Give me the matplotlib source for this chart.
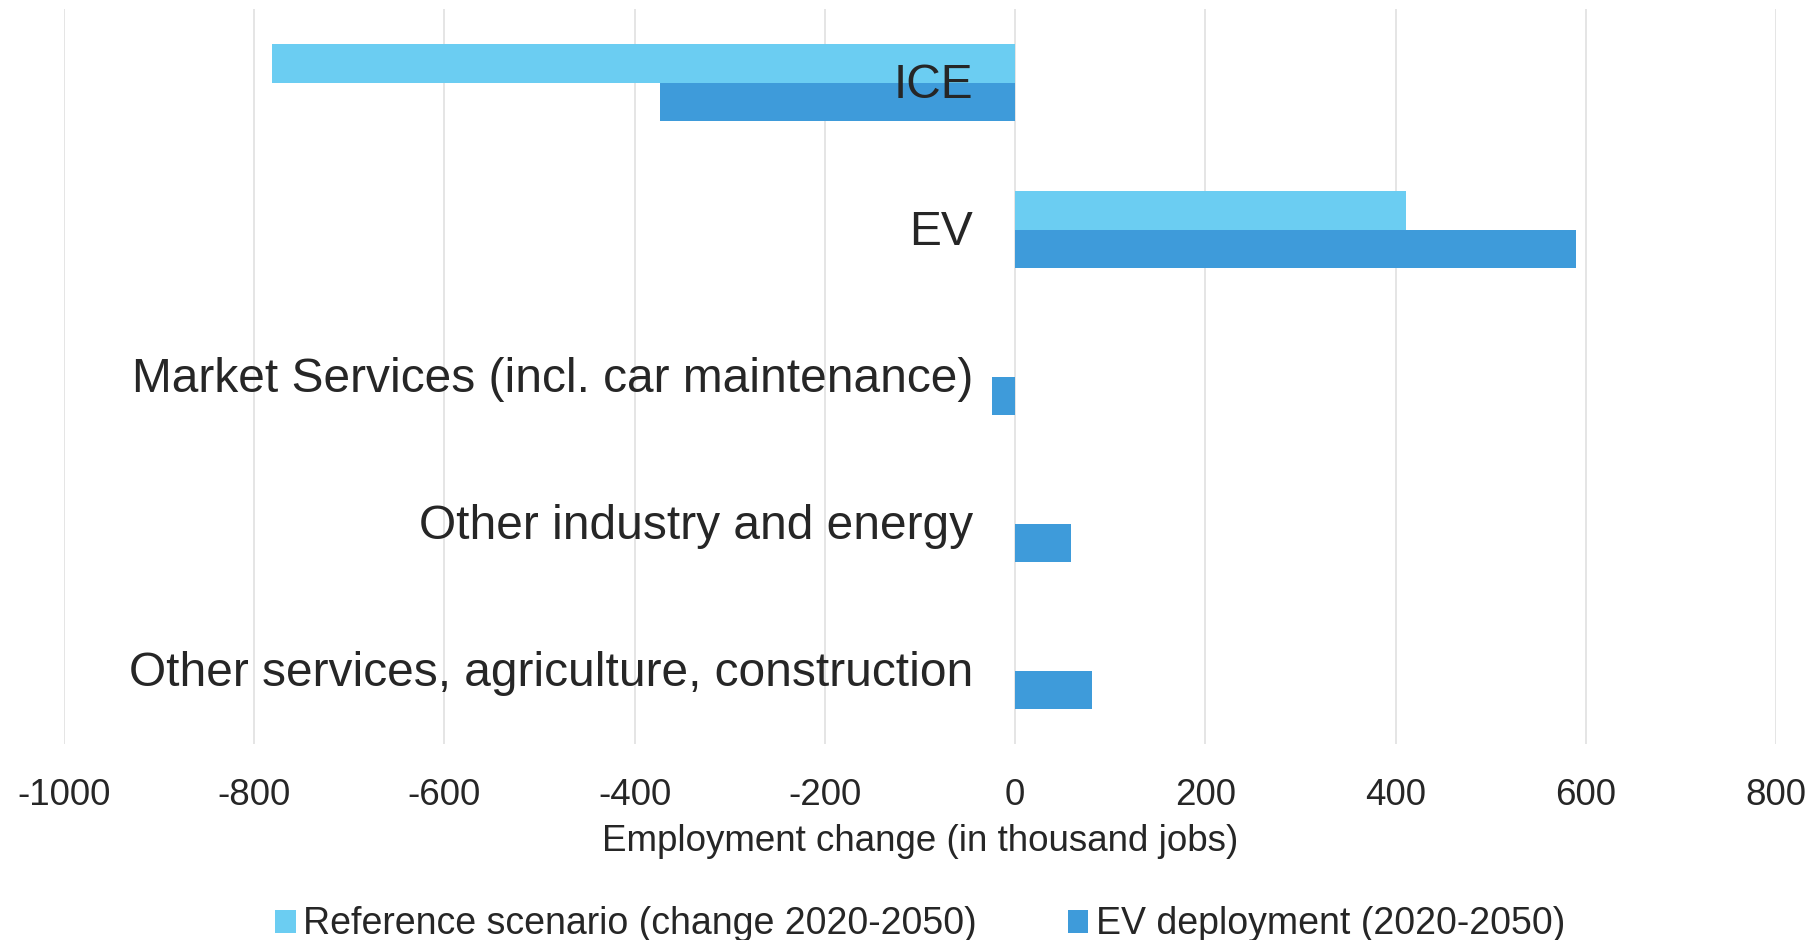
import numpy as np
import matplotlib.pyplot as plt
import matplotlib.transforms as mtransforms

plt.rcParams['font.family'] = ['Liberation Sans', 'DejaVu Sans']
plt.rcParams['text.color'] = '#262626'

# data (thousand jobs)
categories = ["ICE", "EV", "Market Services (incl. car maintenance)",
              "Other industry and energy", "Other services, agriculture, construction"]
reference = [-781, 411, 0, 0, 0]
ev_deploy = [-373, 590, -24, 59, 81]
x_ticks = [-1000, -800, -600, -400, -200, 0, 200, 400, 600, 800]

c_ref = '#6BCDF2'
c_ev = '#3E9BDA'

fig = plt.figure(figsize=(18.16, 9.40), dpi=100)
ax = fig.add_axes([0.0351, 0.208, 0.943, 0.782])

y = np.arange(len(categories))[::-1]
h = 0.262
ax.barh(y + h / 2, reference, h, color=c_ref, label="Reference scenario (change 2020-2050)", zorder=2)
ax.barh(y - h / 2, ev_deploy, h, color=c_ev, label="EV deployment (2020-2050)", zorder=2)

ax.set_xlim(-1000, 800)
ax.set_ylim(-0.5, 4.5)
ax.set_xticks(x_ticks)
ax.set_xticklabels([str(v) for v in x_ticks])
ax.xaxis.grid(True, color='#E3E3E3', linewidth=1.3, zorder=0)
ax.set_axisbelow(True)
ax.set_yticks([])
for s in ax.spines.values():
    s.set_visible(False)
ax.tick_params(axis='x', length=0, pad=24, labelsize=26.5, labelcolor='#262626')

# category labels sit just left of the zero line, over the bars
offset = mtransforms.offset_copy(ax.transData, fig=fig, x=-42, y=-3, units='dots')
for yi, lab in zip(y, categories):
    ax.text(0, yi, lab, transform=offset, ha='right', va='center',
            fontsize=34.5, color='#262626', zorder=5)

ax.set_xlabel("Employment change (in thousand jobs)", fontsize=26.5, labelpad=8, color='#262626')

fig.legend(loc='center', bbox_to_anchor=(0.5066, 0.0165), ncol=2, frameon=False,
           fontsize=27, handlelength=0.55, handleheight=0.55, handletextpad=0.2,
           columnspacing=2.42)

plt.savefig('out.png', dpi=100)
